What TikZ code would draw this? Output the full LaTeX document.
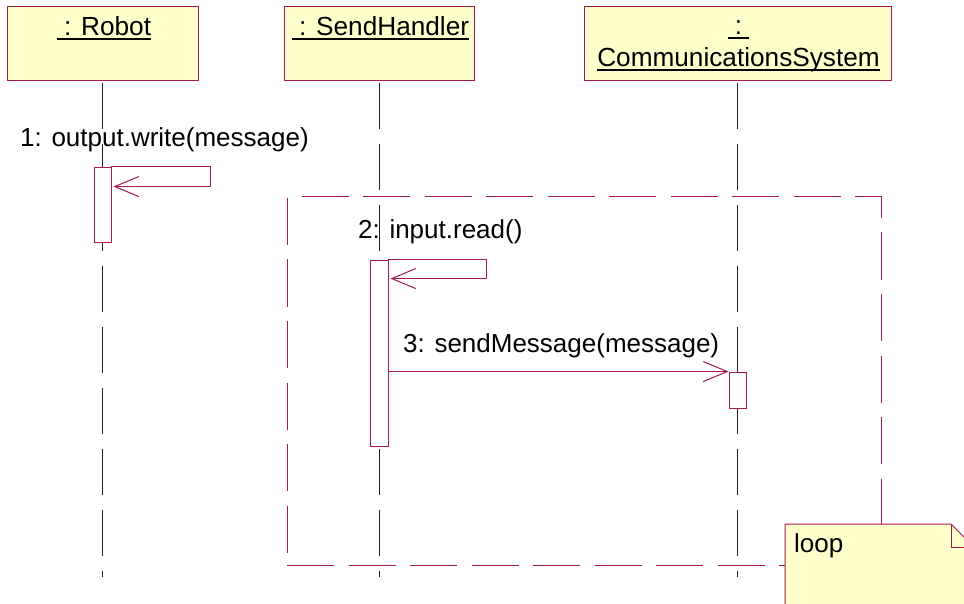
\documentclass[tikz,border=0pt]{standalone}
\usepackage{fontspec}
\setmainfont{Liberation Sans}
\usetikzlibrary{arrows.meta}
\definecolor{umlred}{RGB}{165,25,75}
\definecolor{objfill}{RGB}{255,255,204}
\definecolor{lifegray}{RGB}{30,30,30}
% underlined object name with a fixed rule below the baseline
\newcommand{\ulname}[1]{\setbox0\hbox{#1}\rlap{\rule[-4pt]{\wd0}{1.6pt}}\box0}
\begin{document}
\begin{tikzpicture}[x=1pt,y=-1pt,
  objbox/.style={draw=umlred, fill=objfill, line width=0.9pt, inner sep=0pt},
  actbox/.style={draw=umlred, fill=white, line width=0.9pt, inner sep=0pt},
  lifeline/.style={draw=lifegray, line width=1pt, dash pattern=on 46pt off 15pt, shorten <=3pt},
  msg/.style={draw=umlred, line width=1pt, shorten >=2pt,
    -{Straight Barb[length=24pt,width=20pt,line width=1pt]}},
  lbl/.style={font=\fontsize{26}{31}\selectfont, inner sep=0pt, anchor=base west},
  objlbl/.style={font=\fontsize{26.2}{31}\selectfont, inner sep=0pt, anchor=base},
  loopframe/.style={draw=umlred, line width=1pt, dash pattern=on 47pt off 14.5pt},
  framedash/.style={draw=umlred, line width=1pt},
  notebox/.style={draw=umlred, fill=objfill, line width=1pt, line join=miter}
]
\useasboundingbox (0,0) rectangle (964,604);
\fill[white] (0,0) rectangle (964,604);
\clip (0,0) rectangle (964,604);

% object boxes
\node[objbox, minimum width=191pt, minimum height=74pt] (robot) at (102.5,43) {};
\node[objbox, minimum width=190pt, minimum height=74pt] (sender) at (379,43) {};
\node[objbox, minimum width=307pt, minimum height=74pt] (comms) at (737.5,43) {};

\node[objlbl] (robotname) at (104,36) {\ulname{\ : Robot}};
\node[objlbl] (sendername) at (380.5,36) {\ulname{\ : SendHandler}};
\node[objlbl] (commscolon) at (738.5,35) {\ulname{\ :\ }};
\node[objlbl] (commsname) at (738.5,67) {\ulname{CommunicationsSystem}};

% loop frame: top and right in one stroke, bottom on its own,
% left side as separate dashes
\coordinate (frametl) at (287,197);
\coordinate (framebr) at (881,565);
\draw[loopframe, dash phase=47pt] (frametl) -- (frametl -| framebr) -- (framebr);
\draw[loopframe] (framebr -| frametl) -- (framebr);
\foreach \y in {198,259.5,321,382.5,444,505.5}
  \draw[framedash] (frametl |- 0,\y) -- ++(0,47);

% lifelines
\coordinate (robotend) at (robot.south |- 0,577);
\coordinate (senderend) at (sender.south |- 0,577);
\coordinate (commsend) at (comms.south |- 0,577);
\draw[lifeline] (robot.south) -- (robotend);
\draw[lifeline] (sender.south) -- (senderend);
\draw[lifeline] (comms.south) -- (commsend);

% activations
\node[actbox, minimum width=17pt, minimum height=75pt] (act1) at (102.5,204.5) {};
\node[actbox, minimum width=18pt, minimum height=186pt] (act2) at (379,353) {};
\node[actbox, minimum width=17pt, minimum height=36pt] (act3) at (737.5,390) {};

% messages
\draw[msg] (act1.north east) -- ++(99,0) -- ++(0,20) coordinate (ret1) -- (ret1 -| act1.east);
\draw[msg] (act2.north east) -- ++(98,0) -- ++(0,19) coordinate (ret2) -- (ret2 -| act2.east);
\draw[msg, shorten >=0pt] (act2.east |- act3.north) -- (act3.north west);

\node[lbl] (m1) at (20,147) {1: output.write(message)};
\node[lbl] (m2) at (358,239) {2: input.read()};
\node[lbl] (m3) at (403,352) {3: sendMessage(message)};

% note
\draw[notebox] (785,524) -- (951,524) -- (974,547) -- (974,620) -- (785,620) -- cycle;
\draw[notebox, fill=none] (951,524) -- (951,547) -- (974,547);
\node[lbl] (loopnote) at (794,552) {loop};
\end{tikzpicture}
\end{document}
